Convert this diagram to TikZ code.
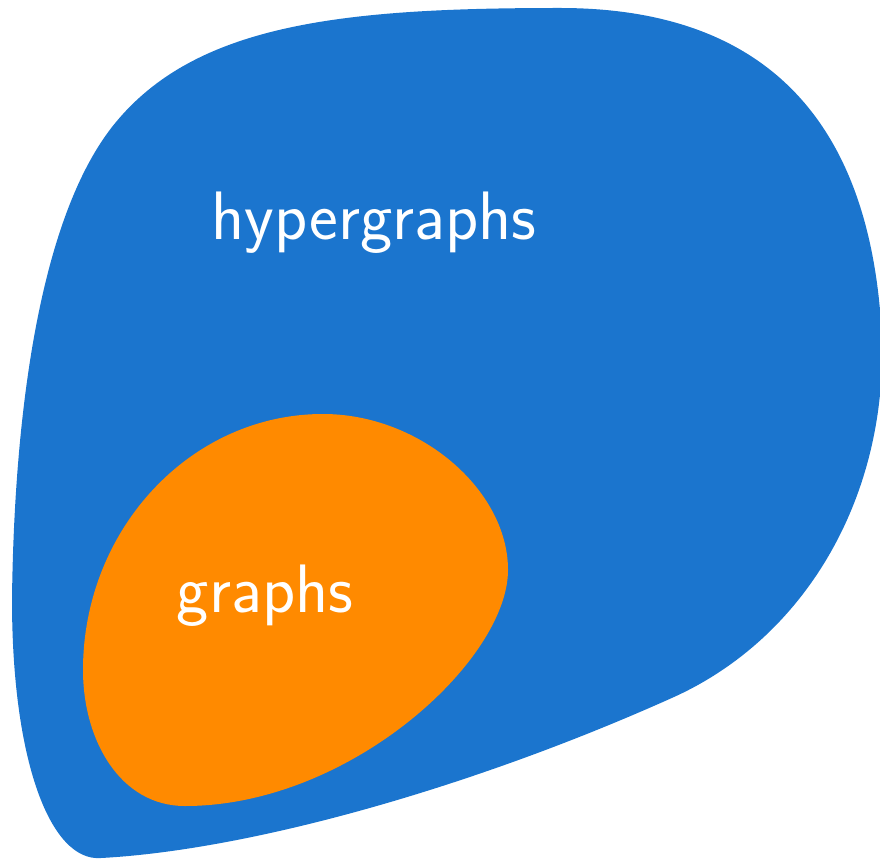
\documentclass[tikz,border=0pt]{standalone}
\usepackage{tikz}
\usetikzlibrary{positioning}
\definecolor{hyperBlue}{HTML}{1B75CE}
\definecolor{graphOrange}{HTML}{FF8A00}

\begin{document}
\begin{tikzpicture}[
  x=0.1mm, y=-0.1mm,
  font=\sffamily,
  %% Label style
  setlabel/.style={
    text=white, anchor=base, inner sep=0pt,
    font=\sffamily\fontsize{19.5}{23}\selectfont
  },
]

%% ── Frame ──────────────────────────────────────────────────────────────────
\useasboundingbox (0,0) rectangle (880,860);
\clip (0,0) rectangle (880,860);

%% ── Hypergraphs (outer blob) ───────────────────────────────────────────────
\fill[hyperBlue]
  (560,8)   .. controls (760,8)   and (872,115) .. (882,340)
            .. controls (886,500) and (804,638) .. (674,697)
            .. controls (474,787) and (251,850) .. (101,858)
            .. controls (50,862)  and (12,760)  .. (12,600)
            .. controls (14,420)  and (38,222)  .. (112,127)
            .. controls (193,24)  and (340,8)   .. cycle;

%% ── Graphs (inner blob) ────────────────────────────────────────────────────
\fill[graphOrange]
  (323,414) .. controls (420,414) and (508,490) .. (508,570)
            .. controls (508,660) and (350,806) .. (185,806)
            .. controls (120,806) and (83,740)  .. (83,670)
            .. controls (83,530)  and (190,414) .. cycle;

%% ── Labels ─────────────────────────────────────────────────────────────────
\node[setlabel] (hyper) at (374,240) {hypergraphs};
\node[setlabel] (graphs) at (265,612) {graphs};

\end{tikzpicture}
\end{document}
